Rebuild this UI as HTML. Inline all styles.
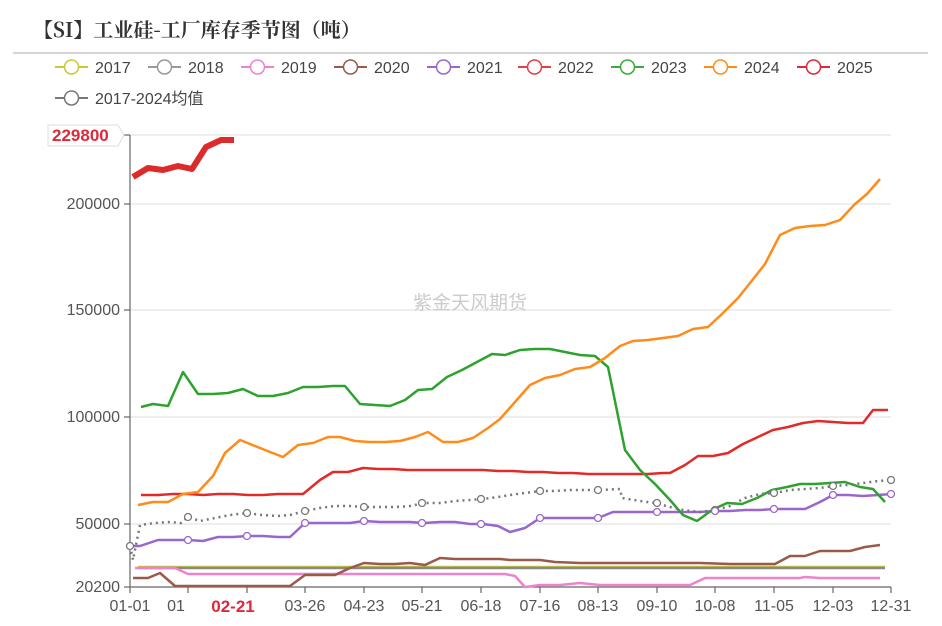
<!DOCTYPE html>
<html><head><meta charset="utf-8"><style>
body{margin:0;background:#fff;width:942px;height:621px;overflow:hidden;font-family:"Liberation Sans","Noto Sans CJK SC",sans-serif}
</style></head><body>
<svg width="942" height="621" viewBox="0 0 942 621" xmlns="http://www.w3.org/2000/svg" font-family="Liberation Sans, Noto Sans CJK SC, sans-serif">
<text x="33" y="37" font-size="20" font-weight="bold" fill="#333" font-family="Noto Serif CJK SC, Liberation Serif, serif">【SI】工业硅-工厂库存季节图（吨）</text>
<line x1="13" y1="53" x2="928" y2="53" stroke="#aaa" stroke-width="1"/>
<g font-size="16" fill="#444">
<g transform="translate(55,67)"><line x1="0" y1="0" x2="33" y2="0" stroke="#c9c83a" stroke-width="2"/><circle cx="16.5" cy="0" r="7" fill="#fff" stroke="#c9c83a" stroke-width="1.5"/><text x="40" y="6">2017</text></g>
<g transform="translate(148,67)"><line x1="0" y1="0" x2="33" y2="0" stroke="#999" stroke-width="2"/><circle cx="16.5" cy="0" r="7" fill="#fff" stroke="#999" stroke-width="1.5"/><text x="40" y="6">2018</text></g>
<g transform="translate(241,67)"><line x1="0" y1="0" x2="33" y2="0" stroke="#ee82cc" stroke-width="2"/><circle cx="16.5" cy="0" r="7" fill="#fff" stroke="#ee82cc" stroke-width="1.5"/><text x="40" y="6">2019</text></g>
<g transform="translate(334,67)"><line x1="0" y1="0" x2="33" y2="0" stroke="#9a5a4a" stroke-width="2"/><circle cx="16.5" cy="0" r="7" fill="#fff" stroke="#9a5a4a" stroke-width="1.5"/><text x="40" y="6">2020</text></g>
<g transform="translate(427,67)"><line x1="0" y1="0" x2="33" y2="0" stroke="#9a66cc" stroke-width="2"/><circle cx="16.5" cy="0" r="7" fill="#fff" stroke="#9a66cc" stroke-width="1.5"/><text x="40" y="6">2021</text></g>
<g transform="translate(518,67)"><line x1="0" y1="0" x2="33" y2="0" stroke="#e34040" stroke-width="2"/><circle cx="16.5" cy="0" r="7" fill="#fff" stroke="#e34040" stroke-width="1.5"/><text x="40" y="6">2022</text></g>
<g transform="translate(611,67)"><line x1="0" y1="0" x2="33" y2="0" stroke="#3aaa3a" stroke-width="2"/><circle cx="16.5" cy="0" r="7" fill="#fff" stroke="#3aaa3a" stroke-width="1.5"/><text x="40" y="6">2023</text></g>
<g transform="translate(704,67)"><line x1="0" y1="0" x2="33" y2="0" stroke="#ff8c1a" stroke-width="2"/><circle cx="16.5" cy="0" r="7" fill="#fff" stroke="#ff8c1a" stroke-width="1.5"/><text x="40" y="6">2024</text></g>
<g transform="translate(797,67)"><line x1="0" y1="0" x2="33" y2="0" stroke="#dd2a3a" stroke-width="2"/><circle cx="16.5" cy="0" r="7" fill="#fff" stroke="#dd2a3a" stroke-width="1.5"/><text x="40" y="6">2025</text></g>
<g transform="translate(55,98)"><line x1="0" y1="0" x2="33" y2="0" stroke="#777" stroke-width="2"/><circle cx="16.5" cy="0" r="7" fill="#fff" stroke="#777" stroke-width="1.5"/><text x="40" y="6">2017-2024均值</text></g>
</g>
<g stroke="#ddd" stroke-width="1">
<line x1="130" y1="135" x2="891" y2="135"/><line x1="130" y1="204" x2="891" y2="204"/><line x1="130" y1="310" x2="891" y2="310"/><line x1="130" y1="417" x2="891" y2="417"/><line x1="130" y1="524" x2="891" y2="524"/>
</g>
<text x="470" y="309" font-size="19" fill="#ccc" text-anchor="middle">紫金天风期货</text>
<g stroke="#666" stroke-width="1.2">
<line x1="130" y1="135" x2="130" y2="587"/><line x1="130" y1="587" x2="891" y2="587"/>
<line x1="124" y1="135" x2="130" y2="135"/><line x1="124" y1="204" x2="130" y2="204"/><line x1="124" y1="310" x2="130" y2="310"/><line x1="124" y1="417" x2="130" y2="417"/><line x1="124" y1="524" x2="130" y2="524"/><line x1="124" y1="587" x2="130" y2="587"/>
<line x1="130" y1="587" x2="130" y2="593"/><line x1="188" y1="587" x2="188" y2="593"/><line x1="247" y1="587" x2="247" y2="593"/><line x1="305" y1="587" x2="305" y2="593"/><line x1="364" y1="587" x2="364" y2="593"/><line x1="422" y1="587" x2="422" y2="593"/><line x1="481" y1="587" x2="481" y2="593"/><line x1="540" y1="587" x2="540" y2="593"/><line x1="598" y1="587" x2="598" y2="593"/><line x1="657" y1="587" x2="657" y2="593"/><line x1="715" y1="587" x2="715" y2="593"/><line x1="774" y1="587" x2="774" y2="593"/><line x1="833" y1="587" x2="833" y2="593"/><line x1="891" y1="587" x2="891" y2="593"/>
</g>
<g font-size="16" fill="#555" text-anchor="end">
<text x="120" y="209">200000</text><text x="120" y="315">150000</text><text x="120" y="422">100000</text><text x="120" y="529">50000</text><text x="120" y="592">20200</text>
</g>
<path d="M48 125 H118 L124 135 L118 146 H48 Z" fill="#fff" stroke="#ddd"/>
<text x="52" y="141" font-size="17" font-weight="bold" fill="#dd2a3a">229800</text>
<g font-size="16" fill="#555" text-anchor="middle">
<text x="130" y="611">01-01</text><text x="176" y="611">01</text><text x="305" y="611">03-26</text><text x="364" y="611">04-23</text><text x="422" y="611">05-21</text><text x="481" y="611">06-18</text><text x="540" y="611">07-16</text><text x="598" y="611">08-13</text><text x="657" y="611">09-10</text><text x="715" y="611">10-08</text><text x="774" y="611">11-05</text><text x="833" y="611">12-03</text><text x="891" y="611">12-31</text>
</g>
<text x="233" y="612" font-size="17" font-weight="bold" fill="#dd2a3a" text-anchor="middle">02-21</text>
<g fill="none" stroke-linejoin="round" stroke-width="2.5">
<polyline stroke="#c9c83a" points="138,567 885,567"/>
<polyline stroke="#888" points="138,568 885,568"/>
<polyline stroke="#ee82cc" points="135,568 175,568 188,574 505,574 515,576 525,587 540,585 560,585 580,583 600,585 690,585 705,578 740,578 800,578 805,577 820,578 880,578"/>
<polyline stroke="#9a5a4a" points="133,578 148,578 160,573 175,586 240,586 290,586 305,575 335,575 350,568 364,563 380,564 395,564 410,563 425,565 440,558 455,559 470,559 500,559 510,560 540,560 555,562 580,563 700,563 730,564 775,564 790,556 805,556 820,551 850,551 865,547 880,545"/>
<polyline stroke="#9a66cc" points="130,546 140,546 158,540 173,540 188,540 203,541 218,537 233,537 248,536 263,536 278,537 290,537 305,523 320,523 335,523 350,523 364,521 380,522 395,522 410,522 424,523 440,522 455,522 470,524 483,524 498,526 510,532 525,528 540,518 555,518 570,518 585,518 598,518 613,512 628,512 700,512 715,511 730,511 745,510 760,510 775,509 790,509 805,509 820,502 833,495 848,495 863,496 878,495 891,494"/>
<polyline stroke="#e32a2a" points="141,495 158,495 173,494 188,494 203,495 218,494 233,494 248,495 263,495 278,494 303,494 320,480 333,472 348,472 363,468 378,469 393,469 408,470 423,470 438,470 453,470 468,470 483,470 498,471 513,471 528,472 543,472 558,473 573,473 588,474 603,474 618,474 633,474 648,474 663,473 670,473 685,465 698,456 713,456 728,453 743,444 758,437 773,430 788,427 803,423 818,421 833,422 848,423 863,423 873,410 888,410"/>
<polyline stroke="#2ea22e" points="141,407 153,404 168,406 183,372 198,394 213,394 228,393 243,389 258,396 273,396 288,393 303,387 318,387 333,386 345,386 360,404 375,405 390,406 405,400 418,390 432,389 447,377 462,370 477,362 492,354 505,355 520,350 535,349 550,349 565,352 580,355 595,356 608,367 625,450 640,470 655,484 670,500 683,515 697,521 712,510 727,503 742,504 757,498 772,490 787,487 800,484 815,484 830,483 845,482 860,487 873,489 885,502"/>
<polyline stroke="#ff8c1a" points="138,505 153,502 168,502 183,494 198,492 213,476 225,453 240,440 255,446 270,452 283,457 298,445 313,443 328,437 340,437 355,441 370,442 385,442 400,441 415,437 428,432 443,442 458,442 473,438 488,428 500,419 515,402 530,385 545,378 560,375 575,369 590,367 605,358 620,346 633,341 648,340 663,338 678,336 693,329 708,327 723,313 738,298 750,283 765,264 780,235 795,228 810,226 825,225 840,220 855,204 867,194 880,179"/>
<polyline stroke="#777" stroke-dasharray="2,4" points="130,546 133,560 140,525 155,523 170,522 181,523 188,517 200,521 215,518 230,515 247,513 262,515 278,516 290,515 305,511 320,508 335,506 350,506 364,507 380,507 395,507 410,506 424,503 440,503 455,501 470,500 483,499 498,497 510,495 525,493 540,491 555,491 570,490 585,490 600,490 620,489 622,498 640,501 655,503 670,507 683,510 700,512 715,510 730,506 745,498 760,494 775,493 790,490 805,489 820,488 833,486 848,485 863,483 878,481 891,480"/>
<polyline stroke="#dd2a2a" stroke-width="6" points="133,177 148,168 163,170 178,166 192,169 206,147 221,140 234,140"/>
</g>
<g fill="#fff" stroke="#777" stroke-width="1.3">
<circle cx="130" cy="546" r="3.5"/><circle cx="188" cy="517" r="3.5"/><circle cx="247" cy="513" r="3.5"/><circle cx="305" cy="511" r="3.5"/><circle cx="364" cy="507" r="3.5"/><circle cx="422" cy="503" r="3.5"/><circle cx="481" cy="499" r="3.5"/><circle cx="540" cy="491" r="3.5"/><circle cx="598" cy="490" r="3.5"/><circle cx="657" cy="503" r="3.5"/><circle cx="715" cy="510" r="3.5"/><circle cx="774" cy="493" r="3.5"/><circle cx="833" cy="486" r="3.5"/><circle cx="891" cy="480" r="3.5"/>
</g>
<g fill="#fff" stroke="#9a66cc" stroke-width="1.3">
<circle cx="188" cy="540" r="3.5"/><circle cx="247" cy="536" r="3.5"/><circle cx="305" cy="523" r="3.5"/><circle cx="364" cy="521" r="3.5"/><circle cx="422" cy="523" r="3.5"/><circle cx="481" cy="524" r="3.5"/><circle cx="540" cy="518" r="3.5"/><circle cx="598" cy="518" r="3.5"/><circle cx="657" cy="512" r="3.5"/><circle cx="715" cy="511" r="3.5"/><circle cx="774" cy="509" r="3.5"/><circle cx="833" cy="495" r="3.5"/><circle cx="891" cy="494" r="3.5"/>
</g>
</svg>
</body></html>
